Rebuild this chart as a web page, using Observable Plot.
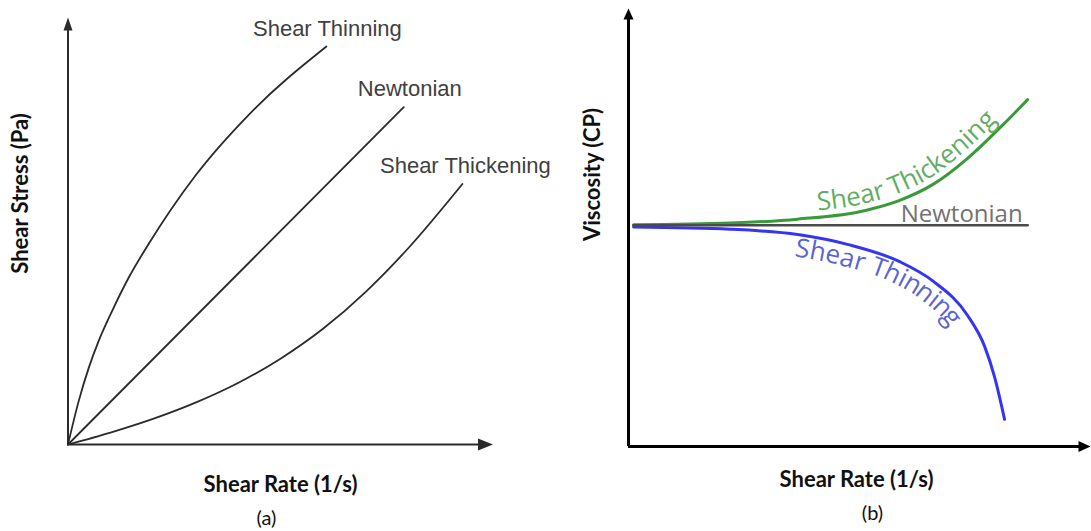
<!DOCTYPE html>
<html>
<head>
<meta charset="utf-8">
<script src="https://cdn.jsdelivr.net/npm/d3@7"></script>
<script src="https://cdn.jsdelivr.net/npm/@observablehq/plot@0.6"></script>
<style>
  html, body { margin: 0; padding: 0; background: #fff; }
  #wrap { display: flex; width: 1091px; height: 531px; }
  #wrap svg { display: block; }
</style>
</head>
<body>
<div id="wrap"></div>
<script>
// ---- (a) shear stress vs shear rate, points [shear rate, shear stress] ----
const stressThinning = [[0, 0], [0.25, 1.01], [0.49, 1.80], [0.72, 2.42], [1.04, 3.13], [1.43, 3.91],
  [1.90, 4.70], [3.00, 6.30], [4.27, 7.74], [6.08, 9.32]];
const stressNewtonian = [[0, 0], [7.9, 7.9]];
const stressThickening = [[0, 0], [1, 0.28], [2, 0.60], [3, 0.98], [4, 1.44], [5, 2.01], [6, 2.71],
  [7, 3.57], [8, 4.59], [9.28, 6.10]];
const stressLabels = ["Shear Thinning", "Newtonian", "Shear Thickening"];

// ---- (b) viscosity vs shear rate, points [shear rate, viscosity] ----
const viscNewtonian = [[0.11, 5.05], [8.64, 5.05]];
const viscThickening = [[0.11, 5.06], [2.20, 5.10], [3.66, 5.19], [5.13, 5.39], [5.87, 5.62], [6.60, 5.99],
  [7.34, 6.58], [8.08, 7.32], [8.64, 7.92]];
const viscThinning = [[0.11, 5.01], [2.20, 4.96], [3.66, 4.84], [4.76, 4.61], [5.87, 4.22], [6.60, 3.77],
  [7.34, 2.99], [7.71, 2.28], [7.92, 1.60], [8.14, 0.62]];
const viscLabels = ["Shear Thickening", "Newtonian", "Shear Thinning"];

const axisTitles = {a: ["Shear Stress (Pa)", "Shear Rate (1/s)", "(a)"], b: ["Viscosity (CP)", "Shear Rate (1/s)", "(b)"]};
const axisMax = 10;

// filled arrow heads whose tip sits on the anchor point
const headUp = (w, h) => ({draw(c) { c.moveTo(0, 0); c.lineTo(w / 2, h); c.lineTo(-w / 2, h); c.closePath(); }});
const headRight = (len, w) => ({draw(c) { c.moveTo(0, 0); c.lineTo(-len, w / 2); c.lineTo(-len, -w / 2); c.closePath(); }});

const X = (d) => d[0], Y = (d) => d[1];
const titleFont = {fontFamily: "Lato", fontWeight: "bold", fontSize: 22, fill: "#111", textAnchor: "middle"};

function axesMarks(color, width, up, right) {
  return [
    Plot.ruleX([0], {y1: 0, y2: axisMax - 0.1, stroke: color, strokeWidth: width}),
    Plot.ruleY([0], {x1: 0, x2: axisMax - 0.1, stroke: color, strokeWidth: width}),
    Plot.dot([[0, axisMax]], {x: X, y: Y, symbol: up, fill: color, stroke: "none"}),
    Plot.dot([[axisMax, 0]], {x: X, y: Y, symbol: right, fill: color, stroke: "none"})
  ];
}

// ---------- panel (a) ----------
const last = (arr) => [arr[arr.length - 1]];
const endLabel = (curve, text, dx) =>
  Plot.text(last(curve), {x: X, y: Y, text: () => text, dx, dy: -11, textAnchor: "middle", lineAnchor: "bottom",
    fontFamily: "Liberation Sans, Arial, sans-serif", fontSize: 22, fill: "#404040"});

const plotA = Plot.plot({
  width: 560, height: 531,
  marginLeft: 67.5, marginRight: 67.5, marginTop: 17, marginBottom: 87,
  x: {domain: [0, axisMax], axis: null},
  y: {domain: [0, axisMax], axis: null},
  style: {background: "#fff", overflow: "visible"},
  marks: [
    ...axesMarks("#2b2b2b", 2, headUp(9, 13), headRight(15, 12)),
    Plot.line(stressThinning, {x: X, y: Y, curve: "monotone-x", stroke: "#2a2a2a", strokeWidth: 1.8}),
    Plot.line(stressNewtonian, {x: X, y: Y, stroke: "#2a2a2a", strokeWidth: 1.8}),
    Plot.line(stressThickening, {x: X, y: Y, curve: "monotone-x", stroke: "#2a2a2a", strokeWidth: 1.8}),
    endLabel(stressThinning, stressLabels[0], 1),
    endLabel(stressNewtonian, stressLabels[1], 6),
    endLabel(stressThickening, stressLabels[2], 3),
    Plot.text([axisTitles.a[0]], {frameAnchor: "left", rotate: -90, dx: -47.5, dy: -37.5, lineAnchor: "middle", ...titleFont}),
    Plot.text([axisTitles.a[1]], {frameAnchor: "bottom", dy: 47, lineAnchor: "bottom", ...titleFont}),
    Plot.text([axisTitles.a[2]], {frameAnchor: "bottom", dx: -14, dy: 80, lineAnchor: "bottom", textAnchor: "middle",
      fontFamily: "Lato", fontSize: 20, fill: "#111"})
  ]
});

// ---------- panel (b) ----------
const plotB = Plot.plot({
  width: 531, height: 531,
  marginLeft: 68, marginRight: 1, marginTop: 8, marginBottom: 85,
  x: {domain: [0, axisMax], axis: null},
  y: {domain: [0, axisMax], axis: null},
  style: {background: "#fff", overflow: "visible"},
  marks: [
    ...axesMarks("#000", 3, headUp(10, 11), headRight(12, 11)),
    Plot.line(viscThickening, {x: X, y: Y, curve: "monotone-x", stroke: "#3a9a3a", strokeWidth: 3}),
    Plot.line(viscThinning, {x: X, y: Y, curve: "monotone-x", stroke: "#3434f2", strokeWidth: 3}),
    Plot.line(viscNewtonian, {x: X, y: Y, stroke: "#4a4a4a", strokeWidth: 2.6}),
    Plot.text(last(viscNewtonian), {x: X, y: Y, text: () => viscLabels[1], dx: -5, dy: -3,
      textAnchor: "end", lineAnchor: "bottom", fontFamily: "Open Sans", fontSize: 24, fill: "#727272"}),
    Plot.text([axisTitles.b[0]], {frameAnchor: "left", rotate: -90, dx: -36, dy: -53, lineAnchor: "middle", ...titleFont}),
    Plot.text([axisTitles.b[1]], {frameAnchor: "bottom", dx: -3, dy: 40, lineAnchor: "bottom", ...titleFont}),
    Plot.text([axisTitles.b[2]], {frameAnchor: "bottom", dx: 13, dy: 73, lineAnchor: "bottom", textAnchor: "middle",
      fontFamily: "Lato", fontSize: 20, fill: "#111"})
  ]
});

const wrap = document.getElementById("wrap");
wrap.append(plotA, plotB);

// Curved labels that run along a drawn line (textPath on the line's own path)
function curveLabel(plot, lineIndex, label, startX, dy, fill, size, spacing) {
  const ns = "http://www.w3.org/2000/svg";
  const g = plot.querySelectorAll('g[aria-label="line"]')[lineIndex];
  const path = g.querySelector("path");
  const id = "curve-" + lineIndex + "-" + label.replace(/\s+/g, "-");
  path.setAttribute("id", id);
  const px = plot.scale("x").apply(startX);
  let lo = 0, hi = path.getTotalLength();
  for (let k = 0; k < 40; k++) {
    const mid = (lo + hi) / 2;
    if (path.getPointAtLength(mid).x < px) lo = mid; else hi = mid;
  }
  const text = document.createElementNS(ns, "text");
  text.setAttribute("dy", dy);
  text.setAttribute("fill", fill);
  text.setAttribute("stroke", "none");
  text.setAttribute("text-anchor", "start");
  text.setAttribute("font-family", "Open Sans");
  text.setAttribute("font-size", size);
  text.setAttribute("letter-spacing", spacing);
  const tp = document.createElementNS(ns, "textPath");
  tp.setAttribute("href", "#" + id);
  tp.setAttribute("startOffset", lo);
  tp.textContent = label;
  text.appendChild(tp);
  g.appendChild(text);
}
curveLabel(plotB, 0, viscLabels[0], 4.11, -7, "#62ad62", 26, 0.3);
curveLabel(plotB, 1, viscLabels[2], 3.66, 22, "#5b64d6", 26, 0.8);
</script>
</body>
</html>
